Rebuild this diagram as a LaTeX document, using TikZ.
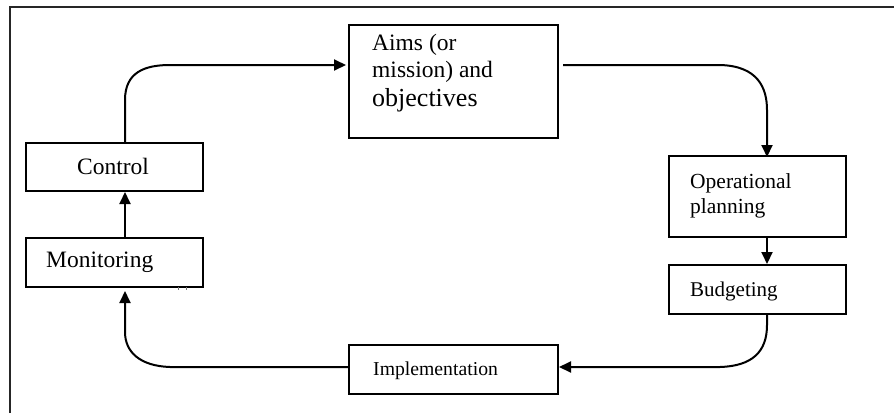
\documentclass[tikz,border=0pt]{standalone}
\usepackage{fontspec}
\setmainfont{Liberation Serif}
\usetikzlibrary{arrows.meta}
\begin{document}
\begin{tikzpicture}[x=1pt,y=-1pt,
  box/.style={draw=black, line width=2pt, inner sep=0pt, anchor=north west},
  lbl/.style={anchor=base west, inner sep=0pt, text=black},
  conn/.style={draw=black, line width=2pt},
  arr/.style={conn, -{Triangle[length=12pt,width=11pt]}},
  fa/.style={font=\fontsize{23.5}{26}\selectfont},
  fb/.style={font=\fontsize{26}{28}\selectfont},
  fc/.style={font=\fontsize{21}{24}\selectfont},
  fd/.style={font=\fontsize{21.5}{24}\selectfont},
  fe/.style={font=\fontsize{19.7}{22}\selectfont}]
\useasboundingbox (0,0) rectangle (894,413);
\fill[white] (0,0) rectangle (894,413);
% outer frame
\draw[line width=2pt, black!85] (10,413) -- (10,7) -- (894,7);
% boxes
\node[box, minimum width=209pt, minimum height=113pt] (aims) at (348,24) {};
\node[box, minimum width=177pt, minimum height=48pt] (ctrl) at (25,142) {};
\node[box, minimum width=177pt, minimum height=49pt] (mon) at (25,237) {};
\node[box, minimum width=177pt, minimum height=81pt] (op) at (668,155) {};
\node[box, minimum width=177pt, minimum height=49pt] (bud) at (668,264) {};
\node[box, minimum width=209pt, minimum height=49pt] (impl) at (348,344) {};
% texts
\node[lbl, fa] (aims1) at (372,50) {Aims (or};
\node[lbl, fa] (aims2) at (372,77) {mission) and};
\node[lbl, fb] (aims3) at (372,106) {objectives};
\node[lbl, fa] (ctrlt) at (77,174) {Control};
\node[lbl, fa] (mont) at (46,267) {Monitoring};
\node[lbl, fd] (op1) at (690,188) {Operational};
\node[lbl, fd] (op2) at (690,213) {planning};
\node[lbl, fc] (budt) at (690,296) {Budgeting};
\node[lbl, fe] (implt) at (373,375) {Implementation};
% helper coordinates
\coordinate (lx) at (125,0);
\coordinate (rx) at (767,0);
\coordinate (ty) at (0,65);
\coordinate (by) at (0,367);
\coordinate (aimsout) at (563,65);
\coordinate (monin) at (125,291);
% connectors
\draw[arr] (ctrl.north -| lx) -- (125,100) .. controls (125,72) and (145,65) .. (170,65) -- ([xshift=-2pt]aims.west |- ty);
\draw[arr] (aimsout) -- (720,65) .. controls (758,66) and (767,88) .. (767,110) -- ([yshift=-2pt]op.north -| rx);
\draw[arr] (op.south -| rx) -- (bud.north -| rx);
\draw[arr] (bud.south -| rx) -- (767,325) .. controls (767,352) and (752,366) .. (720,367) -- (impl.east |- by);
\draw[arr] (impl.west |- by) -- (170,367) .. controls (140,366) and (125,352) .. (125,332) -- (monin);
\draw[arr] (mon.north -| lx) -- (ctrl.south -| lx);
% small mark below Monitoring box
\draw[black!55, line width=0.8pt] (178,287) -- (178,290) (186,287) -- (186,290);
\end{tikzpicture}
\end{document}
